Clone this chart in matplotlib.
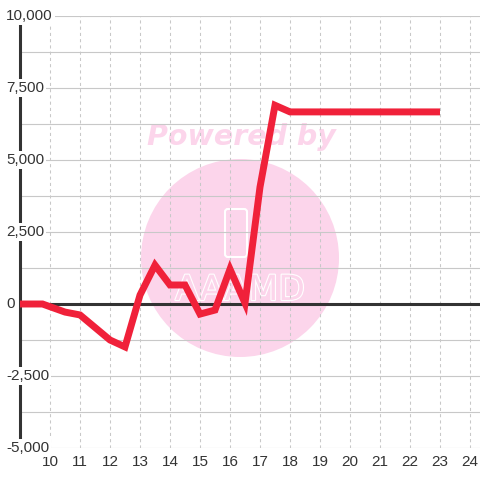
import matplotlib
matplotlib.use("Agg")
import matplotlib.pyplot as plt
import matplotlib.transforms as mtransforms
from matplotlib.patches import Circle, FancyBboxPatch
import matplotlib.patheffects as pe

plt.rcParams['font.family'] = ['Liberation Sans', 'DejaVu Sans']

# data
hours = [9, 9.75, 10.5, 11, 12, 12.5, 13, 13.5, 14, 14.5, 15, 15.5, 16, 16.5, 17, 17.5, 18, 23]
values = [0, 0, -280, -380, -1250, -1490, 310, 1350, 660, 660, -350, -210, 1210, 30, 4060, 6900, 6670, 6670]
x_ticks = list(range(10, 25))
y_ticks = [-5000, -2500, 0, 2500, 5000, 7500, 10000]
y_tick_labels = ['-5,000', '-2,500', '0', '2,500', '5,000', '7,500', '10,000']
y_grid = [-5000 + 1250 * i for i in range(13)]

fig = plt.figure(figsize=(4.8, 4.8), dpi=100)
fig.patch.set_facecolor('white')
ax = fig.add_axes([20/480, 32/480, 460/480, 432/480])
ax.patch.set_visible(False)

ax.set_xlim(9, 9 + 460/30)
ax.set_ylim(-5000, 10000)

# watermark
pink = '#fcd5eb'
ax.add_patch(Circle((240/480, 1 - 258/480), 99/480, transform=fig.transFigure,
                    facecolor=pink, edgecolor='none', zorder=0.1))
ax.add_patch(FancyBboxPatch((225/480, 1 - 257/480), 22/480, 48/480,
                            boxstyle='round,pad=0,rounding_size=0.006',
                            transform=fig.transFigure, facecolor='none',
                            edgecolor='white', lw=1.5, zorder=0.2))
t = ax.text(240/480, 1 - 290/480, 'AAAMD', transform=fig.transFigure,
            ha='center', va='center', fontsize=25, color=pink,
            family='DejaVu Sans', zorder=0.2)
t.set_path_effects([pe.withStroke(linewidth=2.2, foreground='white'), pe.Normal()])
t.set_path_effects([pe.Stroke(linewidth=1.6, foreground='white'), pe.Normal()])
ax.text(241/480, 1 - 145/480, 'Powered by', transform=fig.transFigure,
        ha='center', va='baseline', fontsize=20.5, color=pink,
        family='DejaVu Sans', fontweight='bold', fontstyle='italic', zorder=0.2)

# grid
ax.set_axisbelow(True)
ax.set_yticks(y_grid)
ax.set_xticks(x_ticks)
ax.yaxis.grid(True, color='#c8c8c8', lw=0.8)
ax.xaxis.grid(True, color='#c8c8c8', lw=0.75, ls=(0, (3, 3)))
ax.tick_params(axis='y', length=0, labelleft=False)
ax.tick_params(axis='x', length=0, pad=5, labelsize=11, labelcolor='#333333')

for s in ['top', 'right', 'bottom']:
    ax.spines[s].set_visible(False)
ax.spines['left'].set_color('#333333')
ax.spines['left'].set_linewidth(2.2)

ax.axhline(0, color='#333333', lw=2.2, zorder=2.6)

ax.plot(hours, values, color='#f0213a', lw=5, solid_joinstyle='miter',
        solid_capstyle='butt', zorder=3)

trans = mtransforms.blended_transform_factory(ax.transAxes, ax.transData)
for v, lab in zip(y_ticks, y_tick_labels):
    ax.text((6 - 20)/460, v, lab, transform=trans, ha='left', va='center',
            fontsize=11, color='#333333', clip_on=False, zorder=5,
            bbox=dict(facecolor='white', edgecolor='none', pad=1.5))

fig.savefig('out.png', dpi=100)
